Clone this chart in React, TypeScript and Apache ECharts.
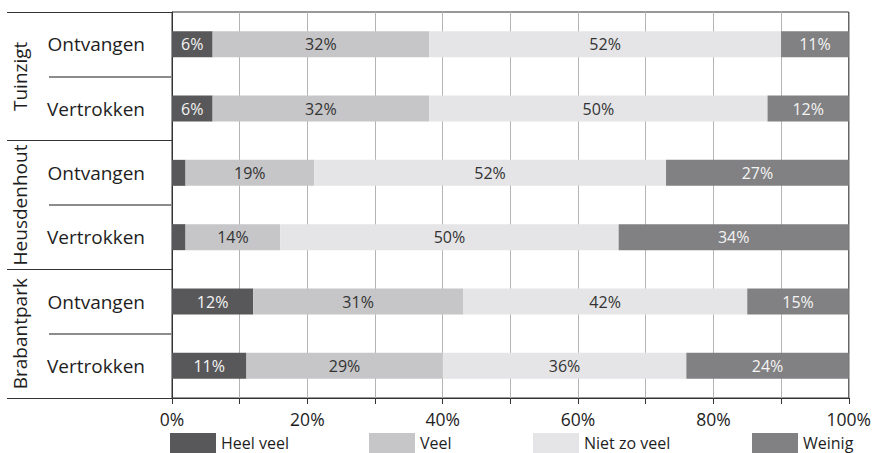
import React, { useEffect, useRef } from "react";
import * as echarts from "echarts";

// Neighbourhoods and the two kinds of respondents in each
const groups = ["Tuinzigt", "Heusdenhout", "Brabantpark"];
const subGroups = ["Ontvangen", "Vertrokken"];

// Answer categories (legend order)
const answerNames = ["Heel veel", "Veel", "Niet zo veel", "Weinig"];
const answerColors = ["#58585a", "#c6c6c8", "#e5e5e7", "#818183"];
const answerLabelColors = ["#f4f4f4", "#333333", "#333333", "#f4f4f4"];

// Shares in %, one value per row (group × sub-group, top to bottom)
const heelVeel = [6, 6, 2, 2, 12, 11];
const veel = [32, 32, 19, 14, 31, 29];
const nietZoVeel = [52, 50, 52, 50, 42, 36];
const weinig = [11, 12, 27, 34, 15, 24];

const xTicks = { min: 0, max: 100, interval: 20 };

const rowKeys = groups.flatMap((g) => subGroups.map((s) => `${g}|${s}`));
const seriesValues = [heelVeel, veel, nietZoVeel, weinig];

const FONT = "Open Sans";
const TEXT = "#1e1e1e";
const legendLefts = [170, 369, 533, 752];

export default function App() {
  const ref = useRef<HTMLDivElement>(null);

  useEffect(() => {
    if (!ref.current) return;
    const chart = echarts.init(ref.current, undefined, { renderer: "svg" });

    const option = {
      animation: false,
      textStyle: { fontFamily: FONT },
      grid: {
        left: 172,
        right: 24,
        top: 12,
        bottom: 55,
        show: true,
        borderColor: "#333",
        borderWidth: 1,
      },
      legend: answerNames.map((name, i) => ({
        data: [name],
        left: legendLefts[i],
        top: 433,
        padding: 0,
        icon: "rect",
        itemWidth: 46,
        itemHeight: 20,
        selectedMode: false,
        textStyle: { fontSize: 16, color: TEXT, fontFamily: FONT },
      })),
      xAxis: {
        type: "value",
        min: xTicks.min,
        max: xTicks.max,
        interval: xTicks.interval,
        axisLine: { show: true, lineStyle: { color: "#333" } },
        axisTick: { show: true, length: 6, lineStyle: { color: "#333" } },
        minorTick: { show: true, splitNumber: 2, length: 6, lineStyle: { color: "#333" } },
        splitLine: { show: true, lineStyle: { color: "#b4b4b4" } },
        minorSplitLine: { show: true, lineStyle: { color: "#b4b4b4" } },
        axisLabel: { formatter: "{value}%", fontSize: 17.5, color: TEXT, margin: 12 },
      },
      yAxis: [
        {
          type: "category",
          data: rowKeys,
          inverse: true,
          position: "left",
          axisLine: { show: true, lineStyle: { color: "#333" } },
          axisTick: { show: false },
          axisLabel: {
            interval: 0,
            fontSize: 19,
            color: TEXT,
            margin: 27,
            formatter: (v: string) => v.split("|")[1],
          },
        },
        {
          // rotated neighbourhood names
          type: "category",
          data: groups,
          inverse: true,
          position: "left",
          offset: 143,
          axisLine: { show: false },
          axisTick: { show: false },
          axisLabel: { interval: 0, rotate: 90, fontSize: 19, color: TEXT, margin: 0 },
        },
        {
          // dark separators between neighbourhoods
          type: "category",
          data: groups,
          inverse: true,
          position: "left",
          offset: 165,
          axisLine: { show: false },
          axisTick: { show: true, inside: true, length: 165, lineStyle: { color: "#333", width: 1 } },
          axisLabel: { show: false },
        },
        {
          // grey separators between Ontvangen and Vertrokken
          type: "category",
          data: groups,
          inverse: true,
          position: "left",
          offset: 123,
          axisLine: { show: false },
          axisTick: {
            show: true,
            alignWithLabel: true,
            inside: true,
            length: 123,
            lineStyle: { color: "#8c8c8c", width: 2 },
          },
          axisLabel: { show: false },
        },
      ],
      series: answerNames.map((name, i) => ({
        name,
        type: "bar",
        stack: "total",
        barWidth: 26,
        data: seriesValues[i],
        itemStyle: { color: answerColors[i] },
        label: {
          show: true,
          position: "inside",
          fontSize: 16,
          color: answerLabelColors[i],
          fontFamily: FONT,
          formatter: (p: any) => (p.value >= 4 ? `${p.value}%` : ""),
        },
      })),
    };

    chart.setOption(option as any);
    return () => chart.dispose();
  }, []);

  return (
    <div
      ref={ref}
      style={{ position: "fixed", left: 0, top: 0, width: 874, height: 453, background: "#fff" }}
    />
  );
}
